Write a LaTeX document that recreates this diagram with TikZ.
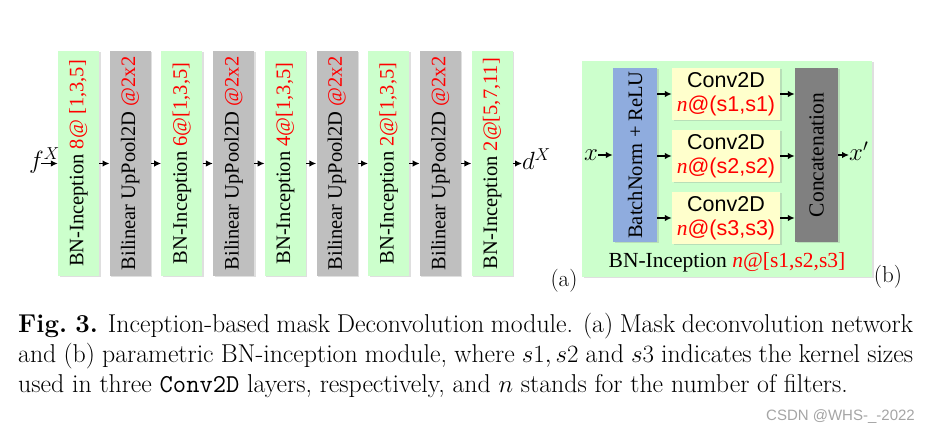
\documentclass[tikz,border=0pt]{standalone}
\usepackage{fontspec}
\newfontfamily\tms{Liberation Serif}
\newfontfamily\arl{Liberation Sans}
\usetikzlibrary{arrows,arrows.meta,shadows,positioning}

\definecolor{bngreen}{RGB}{204,255,204}
\definecolor{poolgray}{RGB}{191,191,191}
\definecolor{convyellow}{RGB}{255,255,204}
\definecolor{normblue}{RGB}{143,172,222}
\definecolor{catgray}{RGB}{128,128,128}
\definecolor{markgray}{RGB}{165,165,165}

\newcommand{\rtxt}[1]{\textcolor{red}{#1}}

\tikzset{
  shade box/.style={inner sep=0pt,
    drop shadow={opacity=0.25,shadow xshift=1.5pt,shadow yshift=-1.5pt}},
  layer/.style={shade box, minimum width=41pt, minimum height=225pt},
  bnlayer/.style={layer, fill=bngreen},
  poollayer/.style={layer, fill=poolgray},
  vtext/.style={rotate=90, inner sep=0pt, font=\tms\fontsize{20.5}{24}\selectfont},
  convbox/.style={shade box, fill=convyellow, minimum width=108pt, minimum height=52pt,
    align=center, font=\arl\fontsize{21.5}{25}\selectfont},
  flow/.style={-{Latex[length=7pt,width=6.5pt]}, line width=1.5pt},
}

\begin{document}
\begin{tikzpicture}[x=1pt,y=-1pt]
\useasboundingbox (0,0) rectangle (930,435);
\fill[white] (0,0) rectangle (930,435);

% (a) mask deconvolution network
\foreach \i/\kind/\lbl in {1/bnlayer/{BN-Inception \rtxt{8@ [1,3,5]}},
    2/poollayer/{Bilinear UpPool2D \rtxt{@2x2}},
    3/bnlayer/{BN-Inception \rtxt{6@[1,3,5]}},
    4/poollayer/{Bilinear UpPool2D \rtxt{@2x2}},
    5/bnlayer/{BN-Inception \rtxt{4@[1,3,5]}},
    6/poollayer/{Bilinear UpPool2D \rtxt{@2x2}},
    7/bnlayer/{BN-Inception \rtxt{2@[1,3,5]}},
    8/poollayer/{Bilinear UpPool2D \rtxt{@2x2}},
    9/bnlayer/{BN-Inception \rtxt{2@[5,7,11]}}}{
  \node[\kind] (b\i) at ({78.5+51.7*(\i-1)},163.5) {};
  \node[vtext] at (b\i) {\lbl};
}
\foreach \i [count=\j from 2] in {1,...,8}
  \draw[flow] (b\i.east) -- (b\j.west);

\node[anchor=base west, inner sep=0pt, font=\fontsize{24}{26}\selectfont] (fX) at (29,169) {$f^X$};
\coordinate (fin) at (41,163.5);
\draw[flow] (fin) -- (b1.west);
\node[anchor=base west, inner sep=0pt, font=\fontsize{24}{26}\selectfont] (dX) at (522,170) {$d^X$};
\draw[flow] (b9.east) -- (b9.east -| dX.west);
\node[font=\fontsize{23}{26}\selectfont] (tagA) at (564,281) {(a)};

% (b) parametric BN-inception module
\node[shade box, fill=bngreen, minimum width=290pt, minimum height=216pt] (bnmod) at (727,169) {};
\node[shade box, fill=normblue, minimum width=44pt, minimum height=174pt] (norm) at (635,155) {};
\node[vtext] at (norm) {BatchNorm + ReLU};
\foreach \k/\yy in {1/94,2/156,3/218}
  \node[convbox] (conv\k) at (726,\yy) {Conv2D\\[-1pt]\rtxt{{\tms\itshape n}@(s\k,s\k)}};
\node[shade box, fill=catgray, minimum width=43pt, minimum height=174pt] (concat) at (816.5,155) {};
\node[vtext, font=\tms\fontsize{21.5}{24}\selectfont] at (concat) {Concatenation};
\foreach \k in {1,2,3}{
  \draw[flow] (norm.east |- conv\k) -- (conv\k.west);
  \draw[flow] (conv\k.east) -- (concat.west |- conv\k);
}
\node[anchor=base west, inner sep=0pt, font=\fontsize{24}{26}\selectfont] (xin) at (584,161) {$x$};
\draw[flow] (norm.west -| xin.east) -- (norm.west);
\node[anchor=base west, inner sep=0pt, font=\fontsize{24}{26}\selectfont] (xout) at (849,161) {$x'$};
\draw[flow] (concat.east) -- (concat.east -| xout.west);
\node[anchor=base, inner sep=0pt, font=\tms\fontsize{21.5}{24}\selectfont] (modlbl) at (727,268)
  {BN-Inception \rtxt{\textit{n}@[s1,s2,s3]}};
\node[font=\fontsize{23}{26}\selectfont] (tagB) at (888,277) {(b)};

% caption
\node[anchor=north west, inner sep=0pt, text width=895pt, align=justify,
  font=\fontsize{25.8}{30}\selectfont] (caption) at (18,313)
  {\textbf{Fig.~3.} Inception-based mask Deconvolution module. (a) Mask deconvolution network\linebreak
   and (b) parametric BN-inception module, where $s1, s2$ and $s3$ indicates the kernel sizes\linebreak
   used in three \texttt{Conv2D} layers, respectively, and $n$ stands for the number of filters.};
\node[anchor=base east, inner sep=0pt, text=markgray, font=\arl\fontsize{15}{18}\selectfont] (mark) at (915,421)
  {CSDN @WHS-\_-2022};
\end{tikzpicture}
\end{document}
